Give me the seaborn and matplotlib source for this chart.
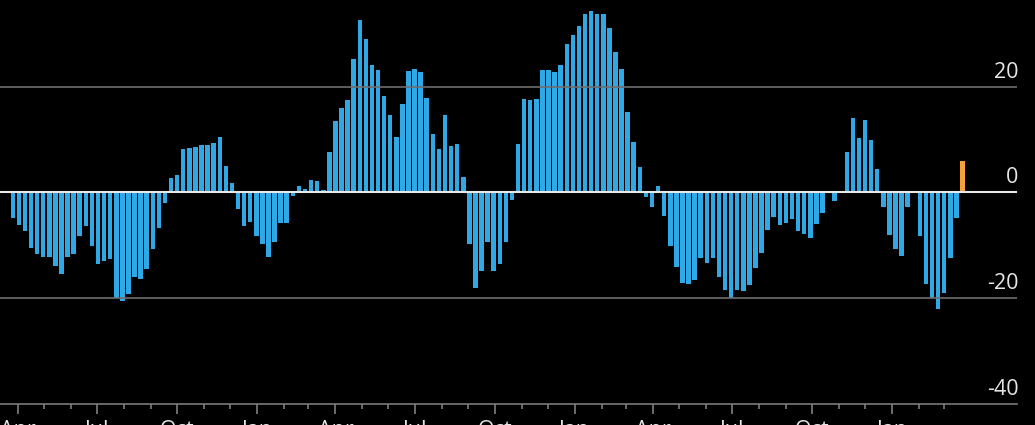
import pandas as pd
import numpy as np
import matplotlib
matplotlib.use("Agg")
import matplotlib.pyplot as plt
import matplotlib.dates as mdates
from matplotlib.ticker import FixedLocator
import seaborn as sns

# weekly readings, first week ending 26 Mar 2021; the last print is highlighted
first_week = "2021-03-26"
values = [
    -4.8, -6.1, -7.2, -10.5, -11.7, -12.2, -12.2, -13.9, -15.4, -12.2, -11.7, -8.3, -6.3,
    -10.1, -13.5, -12.9, -12.5, -19.9, -20.6, -19.2, -15.9, -16.3, -14.4, -10.6, -6.8, -2.0,
    2.7, 3.3, 8.3, 8.4, 8.6, 9.0, 9.0, 9.3, 10.5, 5.0, 1.7,
    -3.1, -6.4, -5.6, -8.2, -9.8, -12.2, -9.4, -5.7, -5.7, -0.6, 1.3, 0.7, 2.3, 2.1, 0.4,
    7.6, 13.6, 16.0, 17.5, 25.3, 32.6, 29.1, 24.2, 23.2, 18.2,
    14.6, 10.5, 16.8, 23.0, 23.4, 22.8, 17.9, 11.1, 8.3, 14.6, 8.8, 9.1, 3.0,
    -9.8, -18.1, -14.8, -9.4, -14.8, -13.6, -9.4, -1.5,
    9.1, 17.7, 17.5, 17.6, 23.2, 23.2, 22.8, 24.2, 28.1,
    29.8, 31.4, 33.7, 34.4, 33.7, 33.7, 31.1, 26.5, 23.4, 15.3, 9.6, 4.9,
    -0.9, -2.7, 1.2, -4.4, -10.1, -14.0, -17.1, -17.3, -16.6, -12.4, -13.3, -12.3, -15.9,
    -18.5, -20.0, -18.4, -18.6, -17.5, -14.3, -11.4, -7.1,
    -4.7, -6.2, -5.7, -5.1, -7.2, -7.9, -8.6, -6.0, -3.8, 0.0, -1.6, 0.2,
    7.7, 14.0, 10.3, 13.7, 9.9, 4.5,
    -2.8, -8.1, -10.6, -12.0, -2.8, 0.0, -8.2, -17.4, -19.9, -22.1, -19.0, -12.3, -4.8,
    6.0,
]
y_ticks = [20, 0, -20, -40]
y_labels = ["20", "0", "-20", "-40"]
# month ticks run from Apr 2021 to Mar 2024, labelled each quarter
month_starts = pd.date_range("2021-04-01", "2024-03-01", freq="MS")
quarter_starts = [d for d in month_starts if d.month in (1, 4, 7, 10)]

weeks = pd.date_range(first_week, periods=len(values), freq="7D")
kind = ["past"] * (len(values) - 1) + ["latest"]
df = pd.DataFrame({"x": mdates.date2num(weeks), "value": values, "kind": kind})

sns.set_theme(style="dark", rc={
    "figure.facecolor": "black",
    "axes.facecolor": "black",
    "savefig.facecolor": "black",
})
plt.rcParams["font.family"] = ["Open Sans", "DejaVu Sans"]

fig = plt.figure(figsize=(10.35, 4.25), dpi=100)
ax = fig.add_axes([0, 21 / 425, 1017 / 1035, 404 / 425])

sns.barplot(data=df, x="x", y="value", hue="kind", native_scale=True,
            palette={"past": "#2fa9e6", "latest": "#f7a236"}, width=0.74,
            dodge=False, errorbar=None, legend=False, saturation=1,
            linewidth=0, edgecolor="none", ax=ax)

# gridlines and zero line sit on top of the bars
ax.axhline(20, color="#6e6e6e", lw=1.2, zorder=5)
ax.axhline(-20, color="#6e6e6e", lw=1.2, zorder=5)
ax.axhline(0, color="#e8e8e8", lw=1.5, zorder=5)

ax.set_ylim(-40, 36.4)
start = mdates.date2num(pd.Timestamp("2021-04-01"))
ax.set_xlim(start - 20.7, start + 1148.7)

ax.set_yticks([])
for v, lab in zip(y_ticks, y_labels):
    ax.annotate(lab, xy=(1.0, v), xycoords=ax.get_yaxis_transform(),
                xytext=(1, 6.5), textcoords="offset points",
                ha="right", va="baseline", color="#e6e6e6", fontsize=15.5)

ax.xaxis.set_major_locator(FixedLocator(mdates.date2num(quarter_starts)))
ax.xaxis.set_minor_locator(FixedLocator(mdates.date2num(month_starts)))
ax.xaxis.set_major_formatter(mdates.DateFormatter("%b"))
ax.tick_params(axis="x", which="major", direction="out", length=7, width=1.1,
               color="#8a8a8a", labelcolor="#e6e6e6", labelsize=15.5, pad=4.5, bottom=True)
ax.tick_params(axis="x", which="minor", direction="out", length=3.6, width=1.1,
               color="#8a8a8a", bottom=True)
ax.set_xlabel("")
ax.set_ylabel("")

for side in ["top", "left", "right"]:
    ax.spines[side].set_visible(False)
ax.spines["bottom"].set_visible(True)
ax.spines["bottom"].set_color("#7a7a7a")
ax.spines["bottom"].set_linewidth(1.2)
ax.grid(False)

fig.savefig("out.png", dpi=100, facecolor="black")
